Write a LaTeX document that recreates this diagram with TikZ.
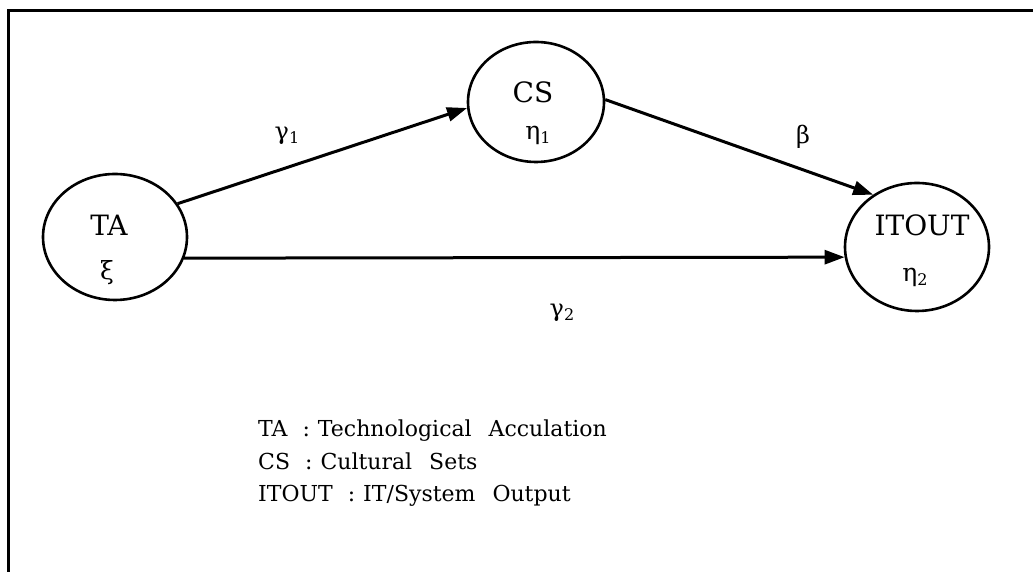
\documentclass[tikz,border=0pt]{standalone}
\usepackage{fontspec}
\setmainfont{DejaVu Serif}
\usetikzlibrary{shapes.geometric,arrows.meta,calc}
\newcommand{\subtxt}[1]{\raisebox{-4pt}{\fontsize{16}{16}\selectfont #1}}
\begin{document}
\begin{tikzpicture}[x=1pt,y=1pt,
  latent/.style={ellipse, draw, line width=2.6pt, inner sep=0pt},
  nodetxt/.style={inner sep=0pt, font=\fontsize{28}{30}\selectfont},
  greek/.style={inner sep=0pt, font=\fontsize{25}{27}\selectfont},
  effect/.style={line width=3pt, -{Triangle[length=20pt,width=14pt]}},
  coef/.style={inner sep=0pt, font=\fontsize{24}{26}\selectfont},
  legend/.style={inner sep=0pt, anchor=base west, font=\fontsize{22}{24}\selectfont}
]
\useasboundingbox (0,0) rectangle (1033,572);
\fill[white] (0,0) rectangle (1033,572);
% frame
\coordinate (fbl) at (8,0);
\coordinate (ftl) at (8,561.5);
\coordinate (ftr) at (1033,561.5);
\draw[line width=3pt] (fbl) -- (ftl) -- (ftr);

% latent variables
\node[latent, minimum width=144pt, minimum height=126pt] (ta) at (115,335) {};
\node[latent, minimum width=136pt, minimum height=120pt] (cs) at (536,470) {};
\node[latent, minimum width=144pt, minimum height=128pt] (itout) at (917,325) {};

\node[nodetxt] (tat) at (109,347) {TA};
\node[greek] (tag) at (107,299) {ξ};
\node[nodetxt] (cst) at (533,480) {CS};
\node[greek] (csg) at (538,437) {η\subtxt{1}};
\node[nodetxt] (itt) at (922,347) {ITOUT};
\node[greek] (itg) at (915,295) {η\subtxt{2}};

% paths
\draw[effect] (ta.28.3) -- (cs.185);
\draw[effect] (cs.2.6) -- (itout.130);
\draw[effect] (ta.-17.2) -- (itout.188.8);

\node[coef] (g1) at (287,436) {γ\subtxt{1}};
\node[coef] (b) at (803,435) {β};
\node[coef] (g2) at (562,259) {γ\subtxt{2}};

% legend
\node[legend] (l1) at (258,135) {TA\hspace{15pt}:\hspace{8pt}Technological\hspace{17pt}Acculation};
\node[legend] (l2) at (258,102) {CS\hspace{15pt}:\hspace{8pt}Cultural\hspace{17pt}Sets};
\node[legend] (l3) at (258,70) {ITOUT\hspace{15pt}:\hspace{8pt}IT/System\hspace{17pt}Output};
\end{tikzpicture}
\end{document}
